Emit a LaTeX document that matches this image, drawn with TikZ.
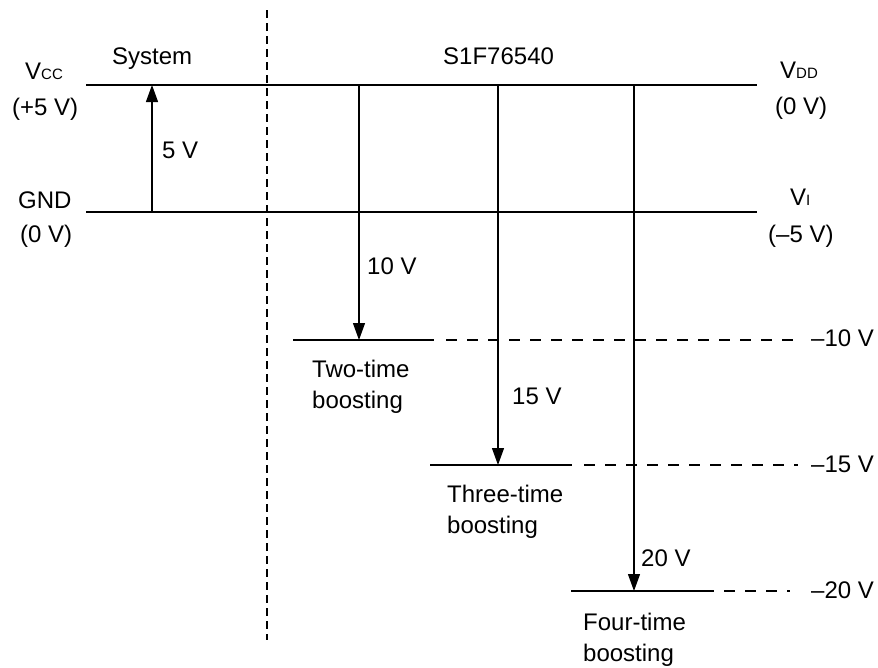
\documentclass[tikz,border=0pt]{standalone}
\usepackage{fontspec}
\setmainfont{Liberation Sans}
\usetikzlibrary{arrows.meta}

\newcommand{\lowcaps}[1]{{\fontsize{15}{15}\selectfont #1}}

\begin{document}
\begin{tikzpicture}[x=1pt, y=-1pt, >={Triangle[length=17pt, width=12pt]},
  lbl/.style={inner sep=0pt, anchor=base west, font=\fontsize{24}{31}\selectfont},
  rail/.style={line width=1.2pt},
  guide/.style={line width=1.1pt, dash pattern=on 11pt off 10pt},
  volt/.style={line width=1.2pt, ->}]
  \useasboundingbox (0,0) rectangle (878,667);

  % rails
  \coordinate (VccL) at (86,85);
  \coordinate (VccR) at (757,85);
  \coordinate (GndL) at (86,212);
  \coordinate (GndR) at (757,212);
  \draw[rail] (VccL) -- (VccR);
  \draw[rail] (GndL) -- (GndR);

  % system / chip border
  \coordinate (BordT) at (267,10);
  \coordinate (BordB) at (267,640);
  \draw[line width=1.1pt, dash pattern=on 8pt off 5pt] (BordT) -- (BordB);

  % boosted levels
  \coordinate (L2a) at (293,340);  \coordinate (L2b) at (434,340);
  \coordinate (L2d) at (446,340);  \coordinate (L2c) at (798,340);
  \coordinate (L3a) at (430,465);  \coordinate (L3b) at (572,465);
  \coordinate (L3d) at (584,465);  \coordinate (L3c) at (798,465);
  \coordinate (L4a) at (571,591);  \coordinate (L4b) at (703,591);
  \coordinate (L4d) at (703,591);  \coordinate (L4c) at (790,591);
  \draw[rail] (L2a) -- (L2b);
  \draw[guide] (L2d) -- (L2c);
  \draw[rail] (L3a) -- (L3b);
  \draw[guide] (L3d) -- (L3c);
  \draw[rail] (L4a) -- (L4b);
  \draw[guide] (L4d) -- (L4c);

  % voltage arrows
  \coordinate (A1s) at (152,212);  \coordinate (A1e) at (152,85);
  \coordinate (A2s) at (359,85);   \coordinate (A2e) at (359,340);
  \coordinate (A3s) at (498,85);   \coordinate (A3e) at (498,465);
  \coordinate (A4s) at (634,85);   \coordinate (A4e) at (634,591);
  \draw[volt] (A1s) -- (A1e);
  \draw[volt] (A2s) -- (A2e);
  \draw[volt] (A3s) -- (A3e);
  \draw[volt] (A4s) -- (A4e);

  % labels
  \node[lbl] (sys) at (112,64) {System};
  \node[lbl] (chip) at (443,64) {S1F76540};
  \node[lbl] (vcc) at (25,79) {V\lowcaps{CC}};
  \node[lbl] (vccv) at (12,115) {(+5 V)};
  \node[lbl] (gnd) at (18,208) {GND};
  \node[lbl] (gndv) at (20,242) {(0 V)};
  \node[lbl] (vdd) at (780,78) {V\lowcaps{DD}};
  \node[lbl] (vddv) at (775,114) {(0 V)};
  \node[lbl] (vi) at (790,205) {V\lowcaps{I}};
  \node[lbl] (viv) at (768,242) {(–5 V)};

  \node[lbl] (u1) at (162,158) {5 V};
  \node[lbl] (u2) at (367,274) {10 V};
  \node[lbl] (u3) at (512,404) {15 V};
  \node[lbl] (u4) at (641,566) {20 V};

  \node[lbl] (m2) at (811,346) {–10 V};
  \node[lbl] (m3) at (811,472) {–15 V};
  \node[lbl] (m4) at (811,598) {–20 V};

  % multi-line: base is last line
  \node[lbl, align=left] (b2) at (312,408) {Two-time\\boosting};
  \node[lbl, align=left] (b3) at (447,533) {Three-time\\boosting};
  \node[lbl, align=left] (b4) at (583,661) {Four-time\\boosting};
\end{tikzpicture}
\end{document}
